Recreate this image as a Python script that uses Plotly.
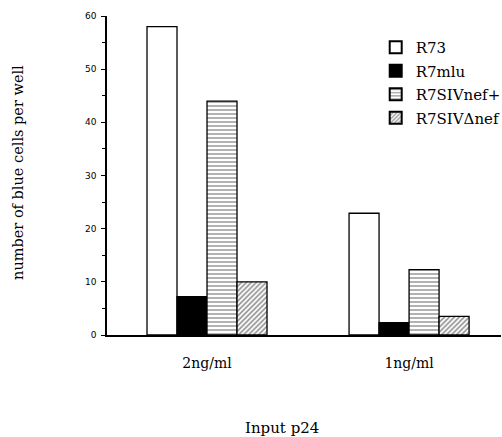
import plotly.graph_objects as go

categories = ["2ng/ml", "1ng/ml"]
series_names = ["R73", "R7mlu", "R7SIVnef+", "R7SIVΔnef"]
r73 = [58, 22.9]
r7mlu = [7.2, 2.3]
r7sivnef_plus = [44, 12.3]
r7siv_dnef = [10, 3.5]
y_ticks = [0, 10, 20, 30, 40, 50, 60]

values = [r73, r7mlu, r7sivnef_plus, r7siv_dnef]
styles = [
    dict(color="white", pattern=dict(shape="")),
    dict(color="black", pattern=dict(shape="")),
    dict(color="white", pattern=dict(shape="-", fgcolor="black", size=4, solidity=0.3)),
    dict(color="white", pattern=dict(shape="/", fgcolor="black", size=3.5, solidity=0.4)),
]

SERIF = "DejaVu Serif"

fig = go.Figure()
xs = [0, 1]
for i, (name, vals, st) in enumerate(zip(series_names, values, styles)):
    fig.add_trace(go.Bar(
        x=xs, y=vals, name=name, legendgroup=f"g{i}",
        marker=dict(color=st["color"], pattern=st["pattern"],
                    line=dict(color="black", width=1.3)),
    ))

fig.update_layout(
    width=502, height=437,
    margin=dict(l=107, r=1, t=16, b=102, autoexpand=False),
    paper_bgcolor="white", plot_bgcolor="white",
    barmode="group", bargap=0.406, bargroupgap=0,
    showlegend=True,
    legend=dict(x=0.682, y=0.953, xanchor="left", yanchor="top",
                font=dict(family=SERIF, size=15, color="black"),
                tracegroupgap=1, itemsizing="constant", bgcolor="rgba(0,0,0,0)"),
    font=dict(family=SERIF, color="black"),
)
fig.update_xaxes(
    range=[-0.495, 1.455], showline=True, linecolor="black", linewidth=1.5,
    tickvals=xs, ticktext=categories, ticks="", showgrid=False, zeroline=False,
    ticklabelstandoff=14,
    tickfont=dict(family=SERIF, size=14, color="black"),
)
fig.update_yaxes(
    range=[0, 60], showline=True, linecolor="black", linewidth=1.5,
    tickvals=y_ticks, ticks="outside", ticklen=4, tickwidth=1, tickcolor="black",
    minor=dict(dtick=5, ticks="outside", ticklen=3, tickcolor="black"),
    showgrid=False, zeroline=False, ticklabelstandoff=3,
    tickfont=dict(family="DejaVu Sans", size=9, color="black"),
)
fig.add_annotation(
    text="number of blue cells per well", xref="paper", yref="paper",
    x=-0.226, y=0.511, textangle=-90, showarrow=False, xanchor="center", yanchor="middle",
    font=dict(family=SERIF, size=14.5, color="black"),
)
fig.add_annotation(
    text="Input p24", xref="paper", yref="paper",
    x=0.444, y=-0.2915, showarrow=False, xanchor="center", yanchor="middle",
    font=dict(family=SERIF, size=15, color="black"),
)
fig.write_html(
    "out.html",
    config={"displayModeBar": False},
    post_script="document.body.style.margin='0';document.body.style.overflow='hidden';",
)
